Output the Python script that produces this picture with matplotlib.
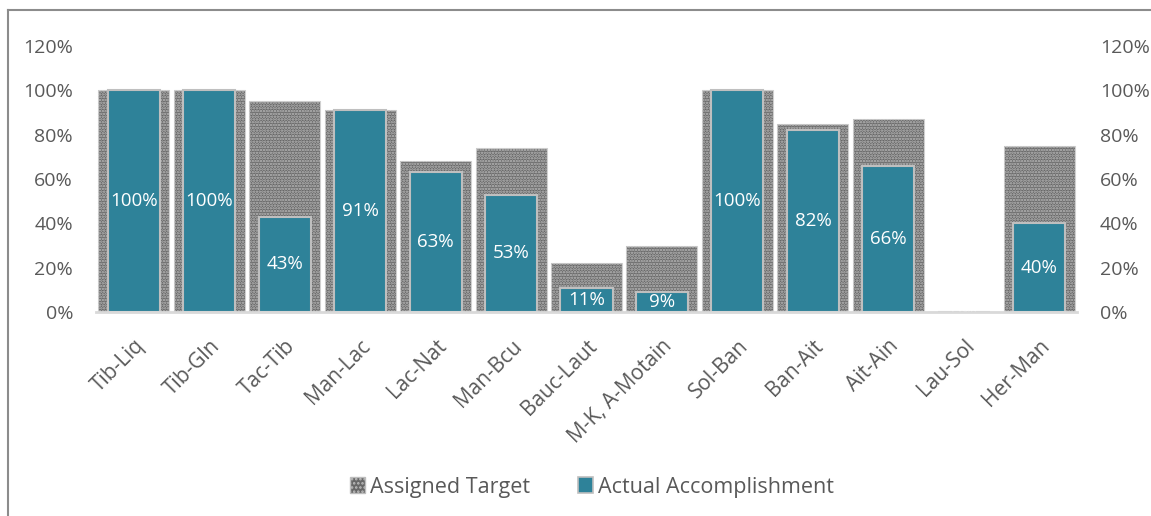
import matplotlib.pyplot as plt
from matplotlib.lines import Line2D
from matplotlib.patches import Patch
from matplotlib.ticker import FuncFormatter

plt.rcParams['font.family'] = ['Open Sans', 'DejaVu Sans']

# chart data (percent)
routes = ["Tib-Liq", "Tib-Gln", "Tac-Tib", "Man-Lac", "Lac-Nat", "Man-Bcu", "Bauc-Laut",
          "M-K, A-Motain", "Sol-Ban", "Ban-Ait", "Ait-Ain", "Lau-Sol", "Her-Man"]
assigned_target = [100, 100, 95, 91, 68, 74, 22, 30, 100, 85, 87, 0, 75]
actual_accomplishment = [100, 100, 43, 91, 63, 53, 11, 9, 100, 82, 66, 0, 40]

text_gray = "#595959"
teal = "#2E8299"
dark_gray = "#676767"

W, H = 1151, 516
fig = plt.figure(figsize=(W / 100, H / 100), dpi=100)
ax = fig.add_axes([96 / W, 1 - 312 / H, (1077 - 96) / W, (312 - 46) / H])

x = list(range(len(routes)))

# assigned target: gray bars with a white dotted pattern
plt.rcParams['hatch.linewidth'] = 1.2
ax.bar(x, assigned_target, width=0.94, color=dark_gray, edgecolor="#d0d0d0", linewidth=0.8, zorder=1)
ax.bar(x, assigned_target, width=0.94, color="none", edgecolor="#bdbdbd", hatch="......",
       linewidth=0, zorder=1.5)

# actual accomplishment
ax.bar(x, actual_accomplishment, width=0.69, color=teal, edgecolor="#bfbfbf",
       linewidth=1.5, zorder=2)

for xi, v in zip(x, actual_accomplishment):
    ax.text(xi, v / 2, f"{v}%", ha="center", va="center", color="white", fontsize=13.5, zorder=3)

pct = FuncFormatter(lambda v, p: f"{v:.0f}%")
yt = [0, 20, 40, 60, 80, 100, 120]

ax.set_xlim(-0.5, len(routes) - 0.5)
ax.set_ylim(0, 120)
ax.set_yticks(yt)
ax.yaxis.set_major_formatter(pct)
ax.tick_params(axis="y", length=0, labelsize=14, labelcolor=text_gray, pad=16.5)
ax.set_xticks(x)
ax.set_xticklabels(routes, rotation=45, ha="right", rotation_mode="anchor",
                   fontsize=15, color=text_gray)
ax.tick_params(axis="x", length=0, pad=17)

for s in ["top", "left", "right"]:
    ax.spines[s].set_visible(False)
ax.spines["bottom"].set_color("#d9d9d9")
ax.spines["bottom"].set_linewidth(2)
ax.spines["bottom"].set_zorder(4)

ax2 = ax.twinx()
ax2.set_ylim(0, 120)
ax2.set_yticks(yt)
ax2.yaxis.set_major_formatter(pct)
ax2.tick_params(axis="y", length=0, labelsize=14, labelcolor=text_gray, pad=16.5)
for s in ax2.spines.values():
    s.set_visible(False)

# legend
handles = [Patch(facecolor=dark_gray, edgecolor="#bdbdbd", hatch="...."),
           Patch(facecolor=teal, edgecolor="#bfbfbf", linewidth=1.2)]
fig.legend(handles, ["Assigned Target", "Actual Accomplishment"], loc="center",
           bbox_to_anchor=(592 / W, 1 - 487 / H), ncol=2, frameon=False, fontsize=15.5,
           labelcolor=text_gray, handlelength=0.7, handleheight=0.7, handletextpad=0.25,
           columnspacing=2.2)

# chart frame
fig.add_artist(Line2D([8 / W, 8 / W], [0, 1 - 10 / H], color="#8c8c8c", lw=1.5))
fig.add_artist(Line2D([8 / W, 1], [1 - 10 / H, 1 - 10 / H], color="#8c8c8c", lw=1.5))

fig.savefig("out.png", dpi=100)
